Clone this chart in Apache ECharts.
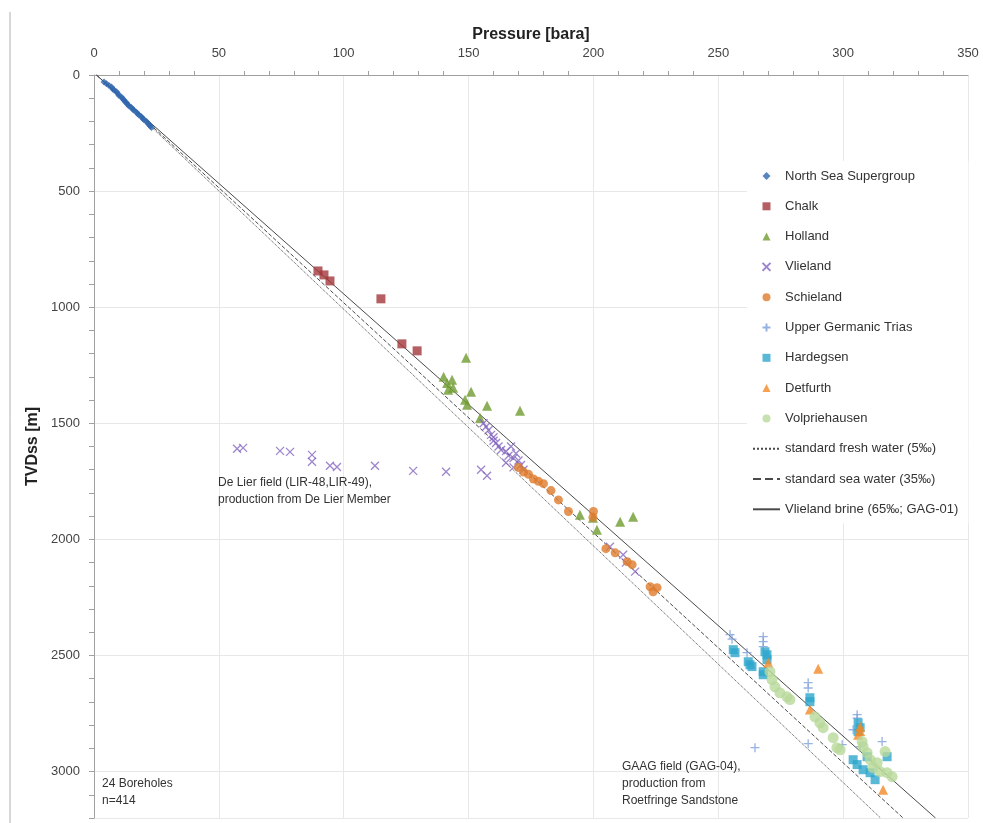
<!DOCTYPE html>
<html>
<head>
<meta charset="utf-8">
<script src="https://cdn.jsdelivr.net/npm/echarts@6/dist/echarts.min.js"></script>
<style>
  html, body { margin: 0; padding: 0; background: #fff; }
  #main { width: 983px; height: 823px; }
</style>
</head>
<body>
<div id="main"></div>
<script>
// pressure [bara], depth TVDss [m]
const northSea = [[4,30],[5,38],[6,45],[7,52],[7.5,60],[8,65],[9,72],[9.5,80],[10,88],[11,95],[11.5,102],[12,108],[12.5,115],[13,120],[13.5,127],[14,133],[15,140],[15.5,147],[16,152],[17,160],[17.5,167],[18,172],[19,180],[19.5,187],[20,193],[21,200],[21.5,207],[22,213],[22.5,220],[23,226]];
const chalk = [[89.7,844],[92.1,861],[94.5,887],[114.9,964],[123.3,1158],[129.4,1188]];
const holland = [[149,1218],[140,1300],[141.4,1326],[143.4,1313],[143.8,1347],[141.8,1356],[151,1364],[148.6,1399],[149.4,1420],[157.4,1425],[170.6,1446],[154.6,1477],[194.6,1894],[199.8,1907],[201.4,1959],[210.7,1924],[215.9,1903]];
const vlieland = [[57.3,1610],[59.7,1606],[74.5,1619],[78.5,1623],[87.3,1636],[87.3,1666],[94.5,1683],[97.3,1688],[112.5,1683],[127.8,1705],[141,1709],[155,1700],[157.4,1726],
  [156,1500],[157,1515],[158,1530],[159,1550],[160,1560],[160,1575],[161,1585],[162,1600],[163,1615],[165,1620],[166,1640],[167,1600],[168,1650],[169,1630],[170,1660],[171,1680],[172,1700],[168,1690],[165,1670],
  [206.6,2032],[211.9,2066],[216.7,2139],[213,2100]];
const schieland = [[170,1690],[172,1710],[174,1720],[176,1740],[178,1750],[180,1760],[183,1790],[186,1830],[190,1880],[200,1880],[199.8,1905],[205,2040],[208.7,2058],[213.5,2096],[215.5,2109],[222.7,2204],[225.5,2208],[223.9,2226]];
const upperTrias = [[254.7,2410],[255.5,2430],[261.5,2488],[268,2419],[268,2440],[268,2462],[286,2617],[286,2640],[305.6,2755],[305.6,2770],[315.6,2871],[306.8,2893],[299.6,2884],[264.7,2897],[286,2880],[304,2820]];
const hardegsen = [[256,2475],[256.7,2488],[262,2527],[262.7,2540],[263.5,2548],[268.7,2484],[269.5,2497],[269.5,2518],[268,2570],[268,2583],[286.7,2682],[286.7,2699],[306,2790],[306.8,2811],[306,2828],[317.6,2936],[304,2949],[305.6,2970],[308,2992],[310.8,3005],[312.8,3035],[309.6,2936]];
const detfurth = [[290,2557],[270,2531],[286.7,2733],[306.8,2807],[306.8,2825],[306,2841],[316,3078]];
const volpriehausen = [[270.7,2570],[271.5,2604],[272.7,2635],[274.7,2661],[277.5,2678],[278.7,2690],[288.7,2764],[290.7,2790],[292,2811],[296,2854],[297.5,2897],[298.8,2906],[307.6,2871],[308,2893],[309.6,2919],[310.8,2949],[313.6,2962],[312,2983],[314.8,3000],[317.6,3005],[319.6,3022],[316.8,2914]];
const freshWater = [[1,0],[315,3200]];
const seaWater = [[1,0],[324,3200]];
const brine = [[1,0],[337,3200]];
const xTicks = [0, 350, 50];
const yTicks = [0, 3200, 500];

const FONT = 'Liberation Sans, Arial, sans-serif';
// path symbols keep their aspect in the legend too
const crossPath = 'path://M0,0L10,10M10,0L0,10';
const plusPath = 'path://M5,0L5,10M0,5L10,5';
const squarePath = 'path://M0,0L10,0L10,10L0,10Z';
const trianglePath = 'path://M5,0L10,10L0,10Z';
const diamondPath = 'path://M5,0L10,5L5,10L0,5Z';

var myChart = echarts.init(document.getElementById('main'));

function scatter(name, data, symbol, size, color) {
    return {
        name: name, type: 'scatter', data: data, symbol: symbol, symbolSize: size,
        symbolKeepAspect: true,
        itemStyle: { color: color }, z: 3
    };
}
function strokeScatter(name, data, path, size, color) {
    return {
        name: name, type: 'scatter', data: data, symbol: path, symbolSize: size,
        symbolKeepAspect: true,
        itemStyle: { color: 'transparent', borderColor: color, borderWidth: 1.3 }, z: 3
    };
}
function gradLine(name, data, type) {
    return {
        name: name, type: 'line', data: data, symbol: 'none', z: 2,
        itemStyle: { color: 'transparent', borderWidth: 0 },
        lineStyle: { color: '#4a4a4a', width: 1, type: type }
    };
}

const option = {
    backgroundColor: '#fff',
    animation: false,
    textStyle: { fontFamily: FONT },
    grid: { left: 94, right: 15, top: 75, bottom: 5 },
    xAxis: {
        type: 'value', position: 'top',
        min: xTicks[0], max: xTicks[1], interval: xTicks[2],
        name: 'Pressure [bara]', nameLocation: 'middle', nameGap: 32,
        nameTextStyle: { fontSize: 16, fontWeight: 'bold', color: '#222', fontFamily: FONT },
        axisLine: { lineStyle: { color: '#a0a0a0' } },
        axisTick: { show: false },
        minorTick: { show: true, splitNumber: 5, length: 4, lineStyle: { color: '#a0a0a0' } },
        axisLabel: { fontSize: 13, color: '#444', margin: 15 },
        splitLine: { lineStyle: { color: '#e8e8e8' } }
    },
    yAxis: {
        type: 'value', inverse: true,
        min: yTicks[0], max: yTicks[1], interval: yTicks[2],
        name: 'TVDss [m]', nameLocation: 'middle', nameGap: 51, nameRotate: 90,
        nameTextStyle: { fontSize: 16, fontWeight: 'bold', color: '#222', fontFamily: FONT },
        axisLine: { show: true, lineStyle: { color: '#a0a0a0' } },
        axisTick: { show: true, length: 5, lineStyle: { color: '#a0a0a0' } },
        minorTick: { show: true, splitNumber: 5, length: 5, lineStyle: { color: '#a0a0a0' } },
        axisLabel: { fontSize: 13, color: '#444', margin: 14, showMaxLabel: false, formatter: v => String(v) },
        splitLine: { lineStyle: { color: '#e8e8e8' } }
    },
    legend: {
        orient: 'vertical', left: 747, top: 161,
        padding: [8, 10, 7, 5],
        backgroundColor: '#fff',
        itemWidth: 27, itemHeight: 8, itemGap: 16.3,
        textStyle: { fontSize: 13, color: '#333', lineHeight: 14, fontFamily: FONT },
        data: ['North Sea Supergroup', 'Chalk', 'Holland', 'Vlieland', 'Schieland',
            'Upper Germanic Trias', 'Hardegsen', 'Detfurth', 'Volpriehausen',
            'standard fresh water (5\u2030)', 'standard sea water (35\u2030)', 'Vlieland brine (65\u2030; GAG-01)']
    },
    graphic: [
        { type: 'line', shape: { x1: 10, y1: 12, x2: 10, y2: 823 }, style: { stroke: '#b0b0b0', lineWidth: 1 } },
        { type: 'text', left: 218, top: 474, z: 10,
          style: { text: 'De Lier field (LIR-48,LIR-49),\nproduction from De Lier Member', font: '12px ' + FONT, fill: '#333', lineHeight: 17 } },
        { type: 'text', left: 622, top: 758, z: 10,
          style: { text: 'GAAG field (GAG-04),\nproduction from\nRoetfringe Sandstone', font: '12px ' + FONT, fill: '#333', lineHeight: 17 } },
        { type: 'text', left: 102, top: 775, z: 10,
          style: { text: '24 Boreholes\nn=414', font: '12px ' + FONT, fill: '#333', lineHeight: 17 } }
    ],
    series: [
        scatter('North Sea Supergroup', northSea, diamondPath, 7, '#2f66ae'),
        scatter('Chalk', chalk, squarePath, 9, '#a3373c'),
        scatter('Holland', holland, trianglePath, 10, '#6f9b30'),
        strokeScatter('Vlieland', vlieland, crossPath, 8, '#8467c0'),
        scatter('Schieland', schieland, 'circle', 9, '#df7a2a'),
        strokeScatter('Upper Germanic Trias', upperTrias, plusPath, 9, '#7c9fd8'),
        scatter('Hardegsen', hardegsen, squarePath, 9, '#2ea6cc'),
        scatter('Detfurth', detfurth, trianglePath, 10, '#f28a25'),
        scatter('Volpriehausen', volpriehausen, 'circle', 11, '#b8d89a'),
        gradLine('standard fresh water (5\u2030)', freshWater, 'dotted'),
        gradLine('standard sea water (35\u2030)', seaWater, 'dashed'),
        gradLine('Vlieland brine (65\u2030; GAG-01)', brine, 'solid')
    ]
};

myChart.setOption(option);
window.addEventListener('resize', myChart.resize);
</script>
</body>
</html>
